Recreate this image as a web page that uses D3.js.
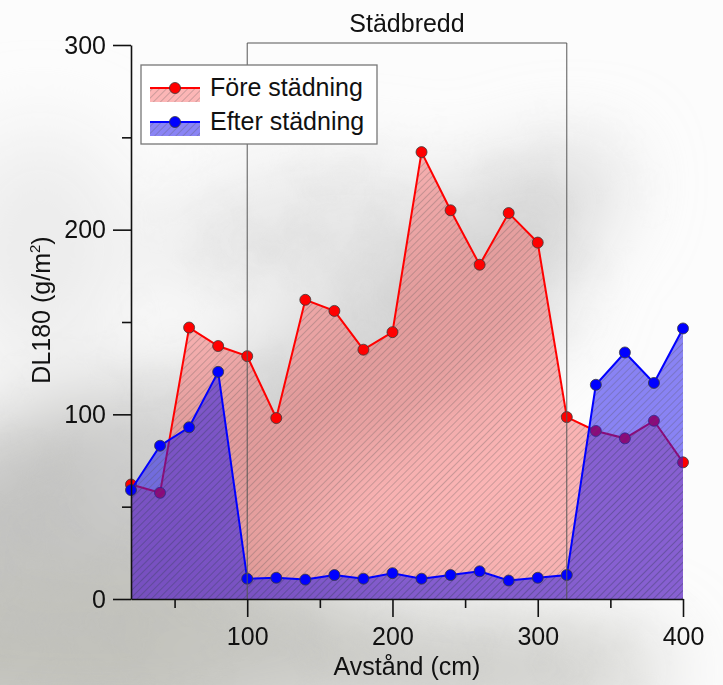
<!DOCTYPE html>
<html><head><meta charset="utf-8">
<script src="https://cdn.jsdelivr.net/npm/d3@7"></script>
<style>body{margin:0;background:#fff}svg{display:block}text{font-family:"Liberation Sans",Arial,sans-serif}</style>
</head><body><svg id="c" width="723" height="685"></svg>
<script>
const xValues = [20,40,60,80,100,120,140,160,180,200,220,240,260,280,300,320,340,360,380,400];
const foreValues = [62,57.5,147,137,131.5,98,162,156,135,144.5,242,210.5,181,209,193,98.5,91,87,96.5,74];
const efterValues = [59,83,93,123,11,11.5,10.5,13,11,14,11,13,15,10,11.5,13,116,133.5,117,146.5];
const seriesNames = ["Före städning","Efter städning"];
const xMajorTicks = [100,200,300,400];
const xMinorTicks = [50,150,250,350];
const yMajorTicks = [0,100,200,300];
const yMinorTicks = [50,150,250];
const bracketRange = [100,320];
const bracketLabel = "Städbredd";
const xTitle = "Avstånd (cm)";

const svg = d3.select("#c");
const W = 723, H = 685;
const x = d3.scaleLinear().domain([20,400]).range([131,683]);
const y = d3.scaleLinear().domain([0,300]).range([599,45]);

const defs = svg.append("defs");
const blur = defs.append("filter").attr("id","blur").attr("x","-50%").attr("y","-50%").attr("width","200%").attr("height","200%");
blur.append("feGaussianBlur").attr("stdDeviation",40);
const noise = defs.append("filter").attr("id","noise").attr("x",0).attr("y",0).attr("width","100%").attr("height","100%");
noise.append("feTurbulence").attr("type","fractalNoise").attr("baseFrequency",0.014).attr("numOctaves",5).attr("seed",7);
noise.append("feColorMatrix").attr("type","matrix").attr("values","0 0 0 0 0.5  0 0 0 0 0.5  0 0 0 0 0.49  1.4 0 0 0 -0.55");
const hatch = defs.append("pattern").attr("id","hatch").attr("patternUnits","userSpaceOnUse")
  .attr("width",5).attr("height",5).attr("patternTransform","rotate(45)");
hatch.append("line").attr("x1",0).attr("y1",0).attr("x2",0).attr("y2",5).attr("stroke","rgba(80,80,80,0.4)").attr("stroke-width",1.4);

// background
svg.append("rect").attr("width",W).attr("height",H).attr("fill","#fcfcfc");
const bg = svg.append("g").attr("filter","url(#blur)");
const blobs = [
  [90,650,330,100,0,"#c2c2bc"],
  [120,480,220,90,-10,"#c4c4c2"],
  [330,390,260,70,-25,"#d2d2d2"],
  [470,250,170,60,-30,"#d6d6d6"],
  [300,230,150,60,-10,"#e6e6e6"],
  [420,670,250,55,0,"#cacac6"],
  [40,250,90,120,0,"#ececec"]
];
blobs.forEach(b=>bg.append("ellipse").attr("cx",b[0]).attr("cy",b[1]).attr("rx",b[2]).attr("ry",b[3])
  .attr("transform",`rotate(${b[4]},${b[0]},${b[1]})`).attr("fill",b[5]));
const mask = defs.append("mask").attr("id","cloudmask");
const mg = mask.append("g").attr("filter","url(#blur)");
blobs.slice(0,6).forEach(b=>mg.append("ellipse").attr("cx",b[0]).attr("cy",b[1]).attr("rx",b[2]).attr("ry",b[3])
  .attr("transform",`rotate(${b[4]},${b[0]},${b[1]})`).attr("fill","#777"));
svg.append("rect").attr("width",W).attr("height",H).attr("filter","url(#noise)").attr("mask","url(#cloudmask)").attr("opacity",0.55);

// data
const fore = xValues.map((v,i)=>({x:v,y:foreValues[i]}));
const efter = xValues.map((v,i)=>({x:v,y:efterValues[i]}));
const area = d3.area().x(d=>x(d.x)).y0(y(0)).y1(d=>y(d.y));
const line = d3.line().x(d=>x(d.x)).y(d=>y(d.y));
const redFill = "rgba(248,80,80,0.42)", blueFill = "rgba(30,20,235,0.52)";

function drawSeries(data, fill, stroke){
  svg.append("path").attr("d",area(data)).attr("fill",fill);
  svg.append("path").attr("d",area(data)).attr("fill","url(#hatch)");
  svg.append("path").attr("d",line(data)).attr("fill","none").attr("stroke",stroke).attr("stroke-width",2);
  svg.append("g").selectAll("circle").data(data).join("circle")
    .attr("cx",d=>x(d.x)).attr("cy",d=>y(d.y)).attr("r",5.5)
    .attr("fill",stroke).attr("stroke","#3a3a3a").attr("stroke-width",0.8);
}
drawSeries(fore,redFill,"#ff0000");
drawSeries(efter,blueFill,"#0000ff");

// bracket
const bg2 = svg.append("g").attr("stroke","#555").attr("stroke-width",1).attr("fill","none");
bg2.append("path").attr("d",`M${x(bracketRange[0])},${y(0)}V43H${x(bracketRange[1])}V${y(0)}`);
svg.append("text").attr("x",(x(bracketRange[0])+x(bracketRange[1]))/2).attr("y",32)
  .attr("text-anchor","middle").attr("font-size",25).attr("fill","#111").text(bracketLabel);

// axes
svg.append("g").attr("transform",`translate(0,${y(0)})`)
  .call(d3.axisBottom(x).tickValues(xMajorTicks).tickSize(18).tickSizeOuter(0).tickPadding(10).tickFormat(d3.format("d")));
svg.append("g").attr("transform",`translate(0,${y(0)})`)
  .call(d3.axisBottom(x).tickValues(xMinorTicks).tickSize(9).tickSizeOuter(0).tickFormat(""))
  .select(".domain").remove();
svg.append("g").attr("transform",`translate(${x(20)},0)`)
  .call(d3.axisLeft(y).tickValues(yMajorTicks).tickSize(18).tickSizeOuter(0).tickPadding(7).tickFormat(d3.format("d")));
svg.append("g").attr("transform",`translate(${x(20)},0)`)
  .call(d3.axisLeft(y).tickValues(yMinorTicks).tickSize(9).tickSizeOuter(0).tickFormat(""))
  .select(".domain").remove();
svg.selectAll(".tick line, .domain").attr("stroke","#111").attr("stroke-width",1.6);
svg.selectAll(".tick text").attr("font-size",25).attr("fill","#111").attr("font-family","'Liberation Sans',Arial,sans-serif");

svg.append("text").attr("x",407).attr("y",675).attr("text-anchor","middle").attr("font-size",25).attr("fill","#111").text(xTitle);
const yt = svg.append("text").attr("transform","translate(50,310) rotate(-90)").attr("text-anchor","middle")
  .attr("font-size",25).attr("fill","#111");
yt.append("tspan").text("DL180 (g/m");
yt.append("tspan").attr("font-size",15).attr("dy",-10).text("2");
yt.append("tspan").attr("dy",10).text(")");

// legend
const lg = svg.append("g");
lg.append("rect").attr("x",141).attr("y",65).attr("width",236).attr("height",79).attr("fill","#fff").attr("stroke","#777").attr("stroke-width",1.3);
const leg = [
  {name:seriesNames[0], fill:redFill, stroke:"#ff0000", ly:88},
  {name:seriesNames[1], fill:blueFill, stroke:"#0000ff", ly:122}
];
leg.forEach(l=>{
  lg.append("rect").attr("x",150).attr("y",l.ly).attr("width",50).attr("height",14).attr("fill",l.fill);
  lg.append("rect").attr("x",150).attr("y",l.ly).attr("width",50).attr("height",14).attr("fill","url(#hatch)");
  lg.append("line").attr("x1",150).attr("x2",200).attr("y1",l.ly).attr("y2",l.ly).attr("stroke",l.stroke).attr("stroke-width",2);
  lg.append("circle").attr("cx",175).attr("cy",l.ly).attr("r",5.5).attr("fill",l.stroke).attr("stroke","#3a3a3a").attr("stroke-width",0.8);
  lg.append("text").attr("x",210).attr("y",l.ly+8).attr("font-size",25).attr("fill","#111").text(l.name);
});
</script></body></html>
